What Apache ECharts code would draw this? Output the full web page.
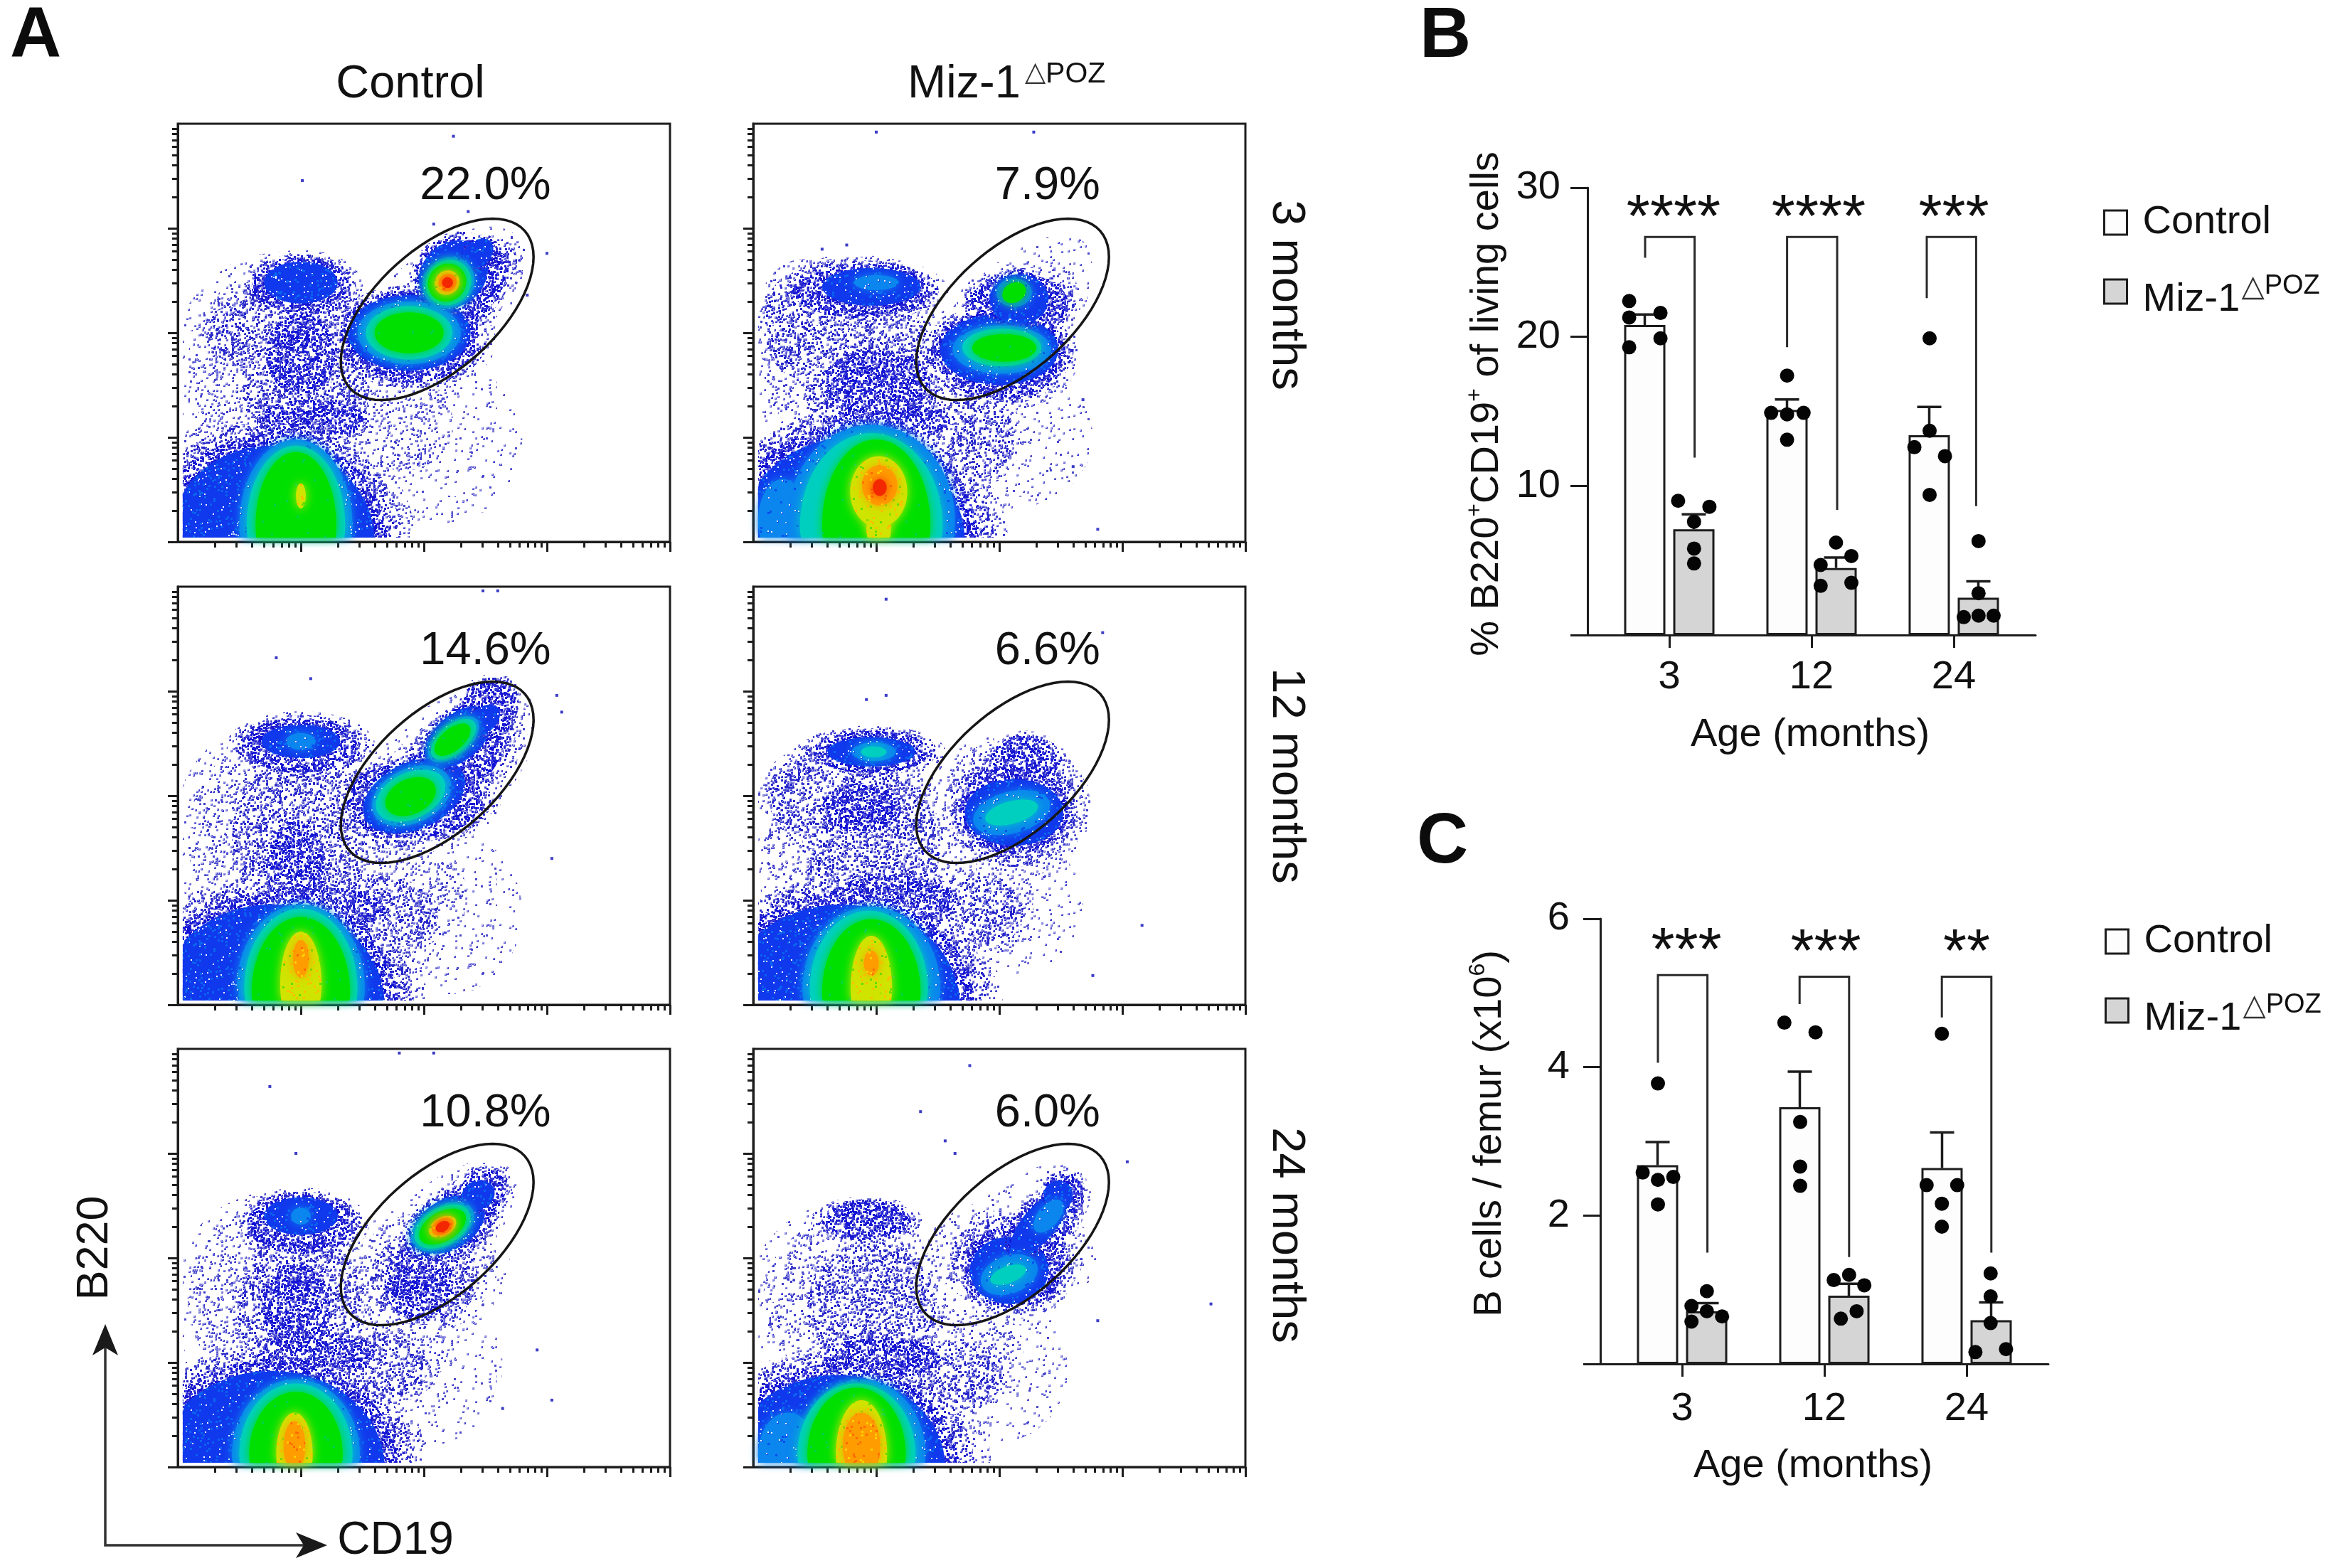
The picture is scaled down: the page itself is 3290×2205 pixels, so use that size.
<!DOCTYPE html>
<html>
<head>
<meta charset="utf-8">
<title>B220 CD19 flow panels and B cell bars</title>
<script src="https://cdn.jsdelivr.net/npm/echarts@6/dist/echarts.min.js"></script>
<style>
  html, body { margin: 0; padding: 0; background: #fff; }
  #chart { width: 3290px; height: 2205px; }
</style>
</head>
<body>
<div id="chart"></div>
<script>
const ageLabels = ["3", "12", "24"];
const ageGroups = [1, 2, 3];

const ctrlMeanB = [20.8, 15.1, 13.4];
const ctrlTopB = [21.5, 15.8, 15.3];
const mizMeanB = [7.1, 4.5, 2.5];
const mizTopB = [8.1, 5.2, 3.6];
const ctrlDotsB = [
  [0.718, 22.4], [0.938, 21.6], [0.718, 21.3], [0.938, 19.9], [0.718, 19.3],
  [1.828, 17.4], [1.716, 14.9], [1.828, 14.8], [1.944, 14.9], [1.828, 13.1],
  [2.83, 19.9], [2.83, 13.7], [2.723, 12.6], [2.938, 12.0], [2.83, 9.4],
];
const mizDotsB = [
  [1.062, 9.0], [1.282, 8.6], [1.174, 7.6], [1.174, 5.8], [1.174, 4.8],
  [2.172, 6.2], [2.28, 5.3], [2.064, 4.7], [2.28, 3.5], [2.064, 3.3],
  [3.174, 6.3], [3.174, 2.8], [3.07, 1.2], [3.174, 1.3], [3.28, 1.3],
];
// left x, right x, top, left end, right end
const bracketsB = [
  [0.83, 1.178, 26.7, 25.3, 11.9],
  [1.828, 2.18, 26.7, 19.3, 8.4],
  [2.81, 3.157, 26.7, 22.6, 8.65],
];
const starsB = [[1.03, 28.4, "****"], [2.05, 28.4, "****"], [3.0, 28.4, "***"]];

const ctrlMeanC = [2.68, 3.46, 2.64];
const ctrlTopC = [2.99, 3.94, 3.12];
const mizMeanC = [0.71, 0.92, 0.59];
const mizTopC = [0.82, 1.08, 0.83];
const ctrlDotsC = [
  [0.83, 3.78], [0.723, 2.58], [0.938, 2.52], [0.83, 2.48], [0.83, 2.15],
  [1.719, 4.6], [1.938, 4.47], [1.83, 3.26], [1.83, 2.66], [1.83, 2.4],
  [2.826, 4.45], [2.719, 2.41], [2.934, 2.41], [2.826, 2.16], [2.826, 1.85],
];
const mizDotsC = [
  [1.174, 0.98], [1.066, 0.78], [1.174, 0.71], [1.281, 0.64], [1.066, 0.57],
  [2.174, 1.2], [2.066, 1.13], [2.281, 1.06], [2.227, 0.71], [2.116, 0.61],
  [3.169, 1.22], [3.169, 0.91], [3.169, 0.55], [3.277, 0.2], [3.062, 0.16],
];
const bracketsC = [
  [0.83, 1.178, 5.24, 4.06, 1.5],
  [1.826, 2.174, 5.22, 4.85, 1.44],
  [2.826, 3.174, 5.22, 4.67, 1.5],
];
const starsC = [[1.03, 5.65, "***"], [2.01, 5.63, "***"], [3.0, 5.63, "**"]];

// flow panels: density regions
// [level, x centre, y centre, x radius, y radius, tilt in degrees], axes run 0-100
const blobs3mCtrl = [
  [0, 53, 24, 17, 20, 0], [0, 52.7, 55.6, 22, 13, 42],
  [1, 20, 42, 18, 23, 0], [1, 46, 28, 10, 11, 0], [1, 52, 53, 19, 11, 42],
  [2, 26, 38, 13, 20, 0], [2, 14, 50, 8, 8, 0], [2, 52, 53, 17, 9, 42],
  [3, 25, 61, 10, 7, 0], [3, 25, 45, 7, 10, 0], [3, 27, 29, 11, 5, 0],
  [4, 25, 62, 7.5, 5, 0], [3, 18, 0, 24, 25, 0], [4, 19, 0, 21, 23, 0],
  [3, 54, 55, 17, 7.5, 42], [3, 47, 48, 14, 10, 0],
  [4, 47, 50, 12.5, 9, 0], [4, 56, 64, 7.5, 7.5, 42], [4, 61, 69, 3.5, 3, 42],
  [5, 47, 50, 10.5, 7.5, 0], [6, 47, 50, 8.8, 6.4, 0], [7, 47, 50, 7, 4.9, 0],
  [5, 55, 62, 5.5, 5.8, 42], [6, 55, 62, 4.8, 5.2, 42], [7, 54.7, 62, 4, 4.4, 42],
  [8, 54.7, 62, 2.6, 2.8, 42], [9, 54.8, 62, 1.9, 2, 42], [10, 54.8, 62, 1.1, 1.3, 42],
  [5, 24, 4, 11.5, 20.5, 0], [6, 24, 4, 10, 19, 0], [7, 24, 4, 8.2, 17.5, 0], [8, 25, 11, 1, 3, 0],
];
const blobs3mMiz = [
  [0, 52, 25, 17, 17, 0], [0, 52.7, 55.6, 20, 11, 42],
  [1, 20, 43, 18, 22, 0], [1, 45, 28, 9, 10, 0], [1, 52, 51, 17, 10, 42],
  [2, 24, 40, 14, 18, 0], [2, 10, 52, 8, 13, 0], [2, 45, 25, 8, 10, 0],
  [3, 22, 60, 14, 6.5, 0], [3, 25, 38, 11, 8, 0], [3, 28, 29, 12, 4, 0],
  [4, 24, 61, 10, 4.5, 0], [3, 19, 0, 26, 25, 0], [4, 20, 0, 23, 25, 0],
  [5, 25, 62, 4.5, 1.8, 0], [5, 6, 5, 5, 10, 0],
  [3, 50, 45, 13, 11, 0], [3, 54, 57, 10, 7, 0],
  [4, 50, 46, 12, 8.5, 0], [4, 54, 58, 6, 6, 0],
  [5, 50.5, 46, 10, 5.8, 0], [6, 50.5, 46.5, 8, 4.5, 0], [7, 51, 46.4, 6.5, 3.3, 0],
  [5, 53, 59.6, 3.6, 3.4, 0], [7, 53, 59.6, 2.5, 2.3, 30],
  [5, 24, 5, 17, 23, 0], [6, 24, 4, 14.5, 22, 0], [7, 25, 4, 11, 20.5, 0],
  [8, 25.5, 12, 5.8, 8.5, 0], [8, 25.5, 3, 2.5, 5, 0], [9, 25.7, 13.5, 3.6, 4.8, 0], [10, 25.7, 13, 1.4, 2, 0],
];
const blobs12mCtrl = [
  [0, 54, 22, 16, 20, 0], [0, 52.7, 55.6, 23, 14, 42],
  [1, 20, 40, 18, 24, 0], [1, 46, 26, 13, 12, 0], [1, 53, 54, 21, 12, 42],
  [2, 25, 40, 14, 20, 0], [2, 40, 22, 13, 9, 0], [2, 53, 54, 19, 10, 42],
  [3, 25, 62, 12, 6.5, 0], [3, 24, 33, 6, 11, 0], [3, 30, 23, 12, 5, 0],
  [4, 25, 63, 8, 4, 0], [3, 18, 0, 26, 24, 0], [4, 19, 0, 23, 24, 0],
  [5, 25, 63, 3, 2, 0],
  [3, 54, 55, 17, 8, 42], [3, 48, 49, 14, 9, 0], [3, 63, 71, 6, 6, 42],
  [4, 48, 50, 11, 8, 25], [4, 57, 64, 8, 5.5, 40], [4, 62, 68, 4, 3, 40],
  [5, 47.5, 50, 8.5, 6.5, 25], [6, 47.3, 50, 7.5, 5.5, 25], [7, 47.3, 49.8, 5.4, 4.2, 25],
  [5, 56, 63.5, 6.2, 3.8, 40], [6, 56, 63.5, 5.5, 3.3, 40], [7, 55.8, 63.4, 4.4, 2.6, 40],
  [5, 25, 4, 13, 20, 0], [6, 25, 4, 11.5, 19, 0], [7, 25, 3, 10, 18, 0],
  [8, 25, 5, 4.2, 12.5, 0], [9, 25, 11, 1.6, 4.5, 0],
];
const blobs12mMiz = [
  [0, 52, 24, 15, 17, 0], [0, 50, 50, 15, 14, 0],
  [1, 20, 40, 18, 22, 0], [1, 44, 26, 13, 13, 0], [1, 52, 48, 14, 14, 0],
  [2, 24, 38, 14, 18, 0], [2, 45, 22, 10, 9, 0], [2, 10, 50, 7, 9, 0],
  [3, 24, 60.5, 12, 5, 0], [3, 22, 47, 8, 6, 0], [3, 28, 25, 13, 6, 0],
  [4, 24, 60.5, 9, 3.5, 0], [3, 18, 0, 26, 24, 0], [4, 18, 0, 24, 24, 0],
  [5, 24.5, 60.5, 4.5, 2.2, 0], [6, 24.5, 60.5, 2.6, 1.3, 0],
  [2, 53, 47, 13, 14, 0], [3, 53, 47, 11, 11, 0], [3, 55, 58, 7, 6, 0],
  [4, 53, 46, 10, 8, 0], [5, 52.5, 46, 8, 5, 15], [6, 52.5, 46, 5.5, 2.7, 15],
  [5, 24, 4, 14, 19.5, 0], [6, 23.5, 4, 12, 18.5, 0], [7, 24, 3, 10, 17.5, 0],
  [8, 24, 4, 4.2, 12.5, 0], [9, 24, 10, 1.5, 3, 0],
];
const blobs24mCtrl = [
  [0, 50, 24, 16, 19, 0], [0, 52.7, 55.6, 20, 11, 42],
  [1, 20, 40, 18, 22, 0], [1, 42, 28, 13, 11, 0], [1, 51, 48, 14, 13, 0],
  [2, 25, 38, 13, 18, 0], [2, 40, 24, 11, 8, 0], [2, 50, 45, 11, 11, 0],
  [3, 25, 58, 11, 7, 0], [3, 24, 38, 7, 11, 0], [3, 28, 27, 12, 5, 0],
  [4, 25, 60, 7.5, 4.5, 0], [5, 25, 60, 2, 2, 0], [3, 18, 0, 26, 23, 0], [4, 19, 0, 23, 23, 0],
  [3, 49, 44, 7, 9, 0], [3, 56, 58, 10, 7, 40], [3, 62, 66, 5, 5, 40],
  [4, 55, 58, 8, 6, 30], [4, 61, 65, 3.5, 3.5, 30],
  [5, 53.8, 57.5, 7, 4.8, 30], [6, 53.8, 57.5, 6.2, 4.4, 30], [7, 53.8, 57.5, 5.2, 3.5, 30],
  [8, 53.8, 57.5, 3, 2.2, 30], [9, 53.8, 57.5, 2.4, 1.8, 30], [10, 53.8, 57.5, 1.5, 1.2, 30],
  [5, 24, 3, 13, 18, 0], [6, 24, 3, 11.5, 17, 0], [7, 24, 3, 9.5, 15, 0],
  [8, 23.7, 3, 3.7, 10, 0], [9, 23.7, 5, 2.2, 6, 0],
];
const blobs24mMiz = [
  [0, 50, 24, 14, 18, 0], [0, 52.7, 55.6, 19, 11, 42],
  [1, 20, 40, 18, 20, 0], [1, 44, 28, 11, 11, 0], [1, 52, 50, 15, 12, 0],
  [2, 24, 38, 13, 16, 0], [2, 42, 22, 9, 8, 0], [2, 52, 50, 12, 10, 0],
  [3, 23, 59, 9, 4.5, 0], [3, 26, 26, 12, 5, 0],
  [3, 17, 0, 25, 22, 0], [4, 17, 0, 22, 22, 0],
  [3, 53, 48, 10, 10, 0], [3, 57, 56, 12, 6, 45], [3, 63, 66, 4, 4, 0],
  [4, 52, 47, 8, 8, 0], [4, 58, 58, 8, 4, 50], [4, 62, 65, 3, 3.5, 0],
  [5, 52, 46, 6, 4.5, 20], [5, 60, 60, 4, 2.5, 50], [6, 51.8, 46, 3.8, 2, 20],
  [5, 7, 3, 6, 10, 0], [5, 22, 3, 13, 18, 0], [6, 21, 3, 12, 17, 0], [7, 21, 3, 10, 16, 0],
  [8, 22, 3, 5.2, 13, 0], [9, 22, 5, 3.8, 8, 0],
];
const gateEllipse = [52.7, 55.6, 23.9, 14.5, 42];

const strayDots3mCtrl = [[25.3, 86.4], [56, 97], [75, 69], [71, 59], [59, 79], [52, 76]];
const strayDots3mMiz = [[25, 98], [57, 98], [19, 71], [14, 70], [67, 34], [65, 18], [70, 3]];
const strayDots12mCtrl = [[62, 99], [65, 99], [20, 83], [27, 78], [77, 74], [78, 70], [76, 35]];
const strayDots12mMiz = [[27, 97], [23, 73], [27, 74], [71, 89], [47, 10], [79, 19], [69, 7]];
const strayDots24mCtrl = [[45, 99], [52, 99], [18.7, 91], [24, 75], [73, 28], [66, 14], [76, 16]];
const strayDots24mMiz = [[44, 96], [34, 85], [39, 78], [41, 75], [76, 73], [93, 39], [70, 35]];

const pctLabels = [
  ["22.0%", "7.9%"],
  ["14.6%", "6.6%"],
  ["10.8%", "6.0%"],
];
const pctAnchors = [
  [[62.5, 85.1], [59.8, 85.1]],
  [[62.5, 84.5], [59.8, 84.5]],
  [[62.5, 84.5], [59.8, 84.5]],
];
const flowBlobs = [
  [blobs3mCtrl, blobs3mMiz],
  [blobs12mCtrl, blobs12mMiz],
  [blobs24mCtrl, blobs24mMiz],
];
const flowStrays = [
  [strayDots3mCtrl, strayDots3mMiz],
  [strayDots12mCtrl, strayDots12mMiz],
  [strayDots24mCtrl, strayDots24mMiz],
];
const decadeMinorTicks = [30.1, 47.7, 60.2, 69.9, 77.8, 84.5, 90.3, 95.4];
const decadeStarts = [0, 25, 50, 75];

const INK = "#1d1d1d";
const FONT = "'Liberation Sans', Arial, sans-serif";

// speckled fills standing in for the cytometer's dots, one canvas tile per density level
const makeTile = (size, bg, dots) => {
  const canvas = document.createElement("canvas");
  canvas.width = canvas.height = size;
  const ctx = canvas.getContext("2d");
  if (bg) {
    ctx.fillStyle = bg;
    ctx.fillRect(0, 0, size, size);
  }
  dots.forEach(([count, color, dot]) => {
    ctx.fillStyle = color;
    for (let i = 1; i <= count; i++) {
      const wobble = (i * i * 0.0137) % 1;
      const x = (i * 0.7548776662 + 0.21 * wobble) % 1;
      const y = (i * 0.569840291 + 0.37 * wobble) % 1;
      ctx.fillRect(Math.round(x * size), Math.round(y * size), dot, dot);
    }
  });
  return canvas;
};
const tile = (size, bg, dots) => ({ image: makeTile(size, bg, dots), repeat: "repeat" });
const levelFills = {
  0: tile(233, null, [[420, "#4a48cc", 3], [380, "#a0a0e6", 2]]),
  1: tile(229, null, [[900, "#3c3ccc", 3], [700, "#9696e4", 2]]),
  2: tile(199, null, [[1300, "#2626cc", 3], [500, "#8484e0", 2]]),
  3: tile(167, null, [[1500, "#1414d6", 3], [300, "#3a3adc", 3]]),
  4: tile(211, "#1038ec", [[800, "#ffffff", 2], [500, "#0a64f0", 3]]),
  5: tile(181, "#0a86ee", [[220, "#0a4cec", 3], [150, "#ffffff", 2]]),
  6: "#00cfc0",
  7: tile(181, "#00e000", [[50, "#00d24c", 3]]),
  8: tile(127, "#cfe400", [[180, "#ffc000", 3], [60, "#64dc00", 3]]),
  9: tile(127, "#ff9c00", [[170, "#ff6a00", 3], [80, "#ffd000", 3]]),
  10: "#f42800",
};
const levelGlow = { 5: "#0a86ee", 6: "#00cfc0", 7: "#00e000", 8: "#cfe400", 9: "#ff9c00", 10: "#f42800" };
// thinner dots ringed around a region so its edge fades out: [scale, level]
const levelHalos = {
  1: [[1.18, 0]],
  2: [[1.2, 1]],
  3: [[1.26, 1], [1.12, 2]],
  4: [[1.26, 2], [1.12, 3]],
};

const ellipsePoints = (api, cx, cy, rx, ry, tilt) => {
  const [px, py] = api.coord([cx, cy]);
  const [sx, sy] = api.size([1, 1]);
  const t = (tilt * Math.PI) / 180;
  const pts = [];
  for (let i = 0; i < 72; i++) {
    const a = (i / 72) * Math.PI * 2;
    const u = rx * sx * Math.cos(a);
    const v = ry * sy * Math.sin(a);
    pts.push([px + u * Math.cos(t) - v * Math.sin(t), py - u * Math.sin(t) - v * Math.cos(t)]);
  }
  return pts;
};

const renderBlob = (params, api) => {
  const level = api.value(0);
  const [cx, cy, rx, ry, tilt] = [1, 2, 3, 4, 5].map((d) => api.value(d));
  // the cells stop just short of the frame on the left and at the bottom
  const lo = api.coord([1, 1]);
  const hi = api.coord([100, 100]);
  const area = { x: lo[0], y: hi[1], width: hi[0] - lo[0], height: lo[1] - hi[1] };
  const piece = (scale, lv) => ({
    type: "polygon",
    shape: { points: echarts.graphic.clipPointsByRect(ellipsePoints(api, cx, cy, rx * scale, ry * scale, tilt), area) },
    style: { fill: levelFills[lv], shadowBlur: levelGlow[lv] ? 14 : 0, shadowColor: levelGlow[lv] || "transparent" },
  });
  const halos = levelHalos[level] || [];
  return { type: "group", children: [...halos.map(([s, lv]) => piece(s, lv)), piece(1, level)] };
};

const renderGate = (params, api) => ({
  type: "polygon",
  shape: { points: ellipsePoints(api, api.value(0), api.value(1), api.value(2), api.value(3), api.value(4)) },
  style: { fill: "none", stroke: "#161616", lineWidth: 3.5 },
});

const grids = [];
const xAxes = [];
const yAxes = [];
const series = [];

const flowCols = [250, 1059];
const flowRows = [174, 825, 1475];
const minorValues = decadeStarts.flatMap((s) => decadeMinorTicks.map((f) => s + f / 4));

flowRows.forEach((top, r) => {
  flowCols.forEach((left, c) => {
    const gi = grids.length;
    grids.push({
      left, top, width: 692, height: 588,
      show: true, borderColor: INK, borderWidth: 3, backgroundColor: "#fff",
    });
    const axisBase = { type: "value", min: 0, max: 100, gridIndex: gi, splitLine: { show: false }, axisLabel: { show: false } };
    const xi = xAxes.length;
    xAxes.push(
      { ...axisBase, position: "bottom", axisLine: { show: true, onZero: false, lineStyle: { color: INK, width: 3 } },
        axisTick: { show: true, length: 14, customValues: [25, 50, 75, 100], lineStyle: { color: INK, width: 3 } } },
      { ...axisBase, position: "bottom", axisLine: { show: false },
        axisTick: { show: true, length: 8, customValues: minorValues, lineStyle: { color: INK, width: 3 } } }
    );
    const yi = yAxes.length;
    yAxes.push(
      { ...axisBase, position: "left", axisLine: { show: true, onZero: false, lineStyle: { color: INK, width: 3 } },
        axisTick: { show: true, length: 14, customValues: [0, 25, 50, 75], lineStyle: { color: INK, width: 3 } } },
      { ...axisBase, position: "left", axisLine: { show: false },
        axisTick: { show: true, length: 8, customValues: minorValues, lineStyle: { color: INK, width: 3 } } }
    );
    series.push(
      { type: "custom", coordinateSystem: "cartesian2d", xAxisIndex: xi, yAxisIndex: yi, silent: true, z: 2,
        dimensions: ["level", "x", "y", "rx", "ry", "tilt"], encode: { x: 1, y: 2 },
        renderItem: renderBlob, data: flowBlobs[r][c] },
      { type: "scatter", xAxisIndex: xi, yAxisIndex: yi, silent: true, z: 3,
        symbol: "rect", symbolSize: 4, itemStyle: { color: "#3c3cc8", opacity: 1 }, data: flowStrays[r][c] },
      { type: "custom", coordinateSystem: "cartesian2d", xAxisIndex: xi, yAxisIndex: yi, silent: true, z: 4,
        encode: { x: 0, y: 1 }, renderItem: renderGate, data: [gateEllipse] },
      { type: "scatter", xAxisIndex: xi, yAxisIndex: yi, silent: true, z: 5, symbolSize: 0, itemStyle: { opacity: 1 },
        label: { show: true, position: "inside", formatter: (p) => pctLabels[r][c], fontFamily: FONT, fontSize: 65, color: "#111" },
        data: [pctAnchors[r][c]] }
    );
  });
});

// half the distance between the two bars of a group, in axis units
const BAR_OFFSET = 0.1725;

const addBarChart = ({ left, top, height, yMax, yStep, yMargin, xMargin, ctrlMean, ctrlTop, mizMean, mizTop, ctrlDots, mizDots, brackets, stars }) => {
  const gi = grids.length;
  grids.push({ left, top, width: 630, height });
  const xi = xAxes.length;
  const yi = yAxes.length;
  xAxes.push({
    type: "value", gridIndex: gi, min: 0.425, max: 3.575, position: "bottom",
    splitLine: { show: false },
    axisLine: { show: true, onZero: false, lineStyle: { color: INK, width: 3 } },
    axisTick: { show: true, length: 18, customValues: ageGroups, lineStyle: { color: INK, width: 3 } },
    axisLabel: { customValues: ageGroups, margin: xMargin, fontFamily: FONT, fontSize: 56, color: "#111",
      formatter: (v) => ageLabels[ageGroups.indexOf(v)] },
  });
  yAxes.push({
    type: "value", gridIndex: gi, min: 0, max: yMax, interval: yStep, position: "left",
    splitLine: { show: false },
    axisLine: { show: true, onZero: false, lineStyle: { color: INK, width: 3 } },
    axisTick: { show: true, length: 24, lineStyle: { color: INK, width: 3 } },
    axisLabel: { margin: yMargin, fontFamily: FONT, fontSize: 56, color: "#111", formatter: (v) => (v === 0 ? "" : String(v)) },
  });
  const barStyle = (fill) => ({
    type: "bar", xAxisIndex: xi, yAxisIndex: yi, barWidth: 58, barGap: "19%", silent: true, z: 2,
    itemStyle: { color: fill, borderColor: INK, borderWidth: 3 },
  });
  series.push(
    { ...barStyle("#fdfdfd"), name: "Control", data: ctrlMean.map((v, i) => [ageGroups[i], v]) },
    { ...barStyle("#d5d5d5"), name: "Miz-1", data: mizMean.map((v, i) => [ageGroups[i], v]) },
    // whisker goes up only, as in the figure
    { type: "custom", coordinateSystem: "cartesian2d", xAxisIndex: xi, yAxisIndex: yi, silent: true, z: 3,
      encode: { x: 0, y: [1, 2] },
      renderItem: (params, api) => {
        const x = api.value(0);
        const base = api.coord([x, api.value(1)]);
        const tip = api.coord([x, api.value(2)]);
        return {
          type: "polyline",
          shape: { points: [base, tip, [tip[0] - 17, tip[1]], [tip[0] + 17, tip[1]]] },
          style: { fill: "none", stroke: INK, lineWidth: 3.5 },
        };
      },
      data: [
        ...ctrlMean.map((v, i) => [ageGroups[i] - BAR_OFFSET, v, ctrlTop[i]]),
        ...mizMean.map((v, i) => [ageGroups[i] + BAR_OFFSET, v, mizTop[i]]),
      ] },
    { type: "scatter", xAxisIndex: xi, yAxisIndex: yi, silent: true, z: 4, symbolSize: 20,
      itemStyle: { color: "#050505", opacity: 1 }, data: [...ctrlDots, ...mizDots] },
    { type: "custom", coordinateSystem: "cartesian2d", xAxisIndex: xi, yAxisIndex: yi, silent: true, z: 5,
      encode: { x: [0, 1], y: [2, 3, 4] },
      renderItem: (params, api) => {
        const [l, r, t, le, re] = [0, 1, 2, 3, 4].map((d) => api.value(d));
        return {
          type: "polyline",
          shape: { points: [api.coord([l, le]), api.coord([l, t]), api.coord([r, t]), api.coord([r, re])] },
          style: { fill: "none", stroke: "#2a2a2a", lineWidth: 3 },
        };
      },
      data: brackets },
    { type: "scatter", xAxisIndex: xi, yAxisIndex: yi, silent: true, z: 5, symbolSize: 0, itemStyle: { opacity: 1 },
      label: { show: true, position: "inside", offset: [0, 12], formatter: (p) => p.data[2], fontFamily: FONT, fontSize: 85, color: "#111" },
      data: stars }
  );
};

addBarChart({ left: 2232, top: 264, height: 629, yMax: 30, yStep: 10, yMargin: 38, xMargin: 32,
  ctrlMean: ctrlMeanB, ctrlTop: ctrlTopB, mizMean: mizMeanB, mizTop: mizTopB,
  ctrlDots: ctrlDotsB, mizDots: mizDotsB, brackets: bracketsB, stars: starsB });
addBarChart({ left: 2250, top: 1292, height: 626, yMax: 6, yStep: 2, yMargin: 43, xMargin: 36,
  ctrlMean: ctrlMeanC, ctrlTop: ctrlTopC, mizMean: mizMeanC, mizTop: mizTopC,
  ctrlDots: ctrlDotsC, mizDots: mizDotsC, brackets: bracketsC, stars: starsC });

const legendRich = {
  t: { fontFamily: FONT, fontSize: 56, color: "#111", lineHeight: 64, padding: [0, 0, 0, 17] },
  m: { fontFamily: FONT, fontSize: 56, color: "#111", lineHeight: 64, padding: [24, 0, 0, 17] },
  d: { fontFamily: "'DejaVu Sans'", fontSize: 42, color: "#333", verticalAlign: "top", lineHeight: 46, padding: [6, 0, 0, 2] },
  s: { fontFamily: FONT, fontSize: 38, color: "#111", verticalAlign: "top", lineHeight: 46, padding: [6, 0, 0, 0] },
};
const makeLegend = (left, top) => ({
  left, top, padding: 0, orient: "vertical", icon: "rect", itemWidth: 32, itemHeight: 34, itemGap: 29,
  data: ["Control", "Miz-1"], selectedMode: false, align: "left",
  itemStyle: { borderColor: INK, borderWidth: 3 },
  formatter: (name) => (name === "Miz-1" ? "{m|Miz-1}{d|△}{s|POZ}" : "{t|Control}"),
  textStyle: { rich: legendRich },
});

const label = (text, x, y, size, extra) => ({
  type: "text", x, y, silent: true, z: 10,
  style: { text, fontFamily: FONT, fontSize: size, fill: "#111", align: "center", verticalAlign: "middle", ...extra },
});
const richSup = {
  t: { fontFamily: FONT, fontSize: 56, fill: "#111", color: "#111", lineHeight: 66 },
  s: { fontFamily: FONT, fontSize: 32, fill: "#111", color: "#111", verticalAlign: "top", lineHeight: 40 },
};
const rot = (deg) => (deg * Math.PI) / 180;
const arrowHead = (tip, dir) => {
  // notched head pointing along dir
  const [tx, ty] = tip;
  const [dx, dy] = dir;
  const back = 44, notch = 33, half = 18;
  return [
    [tx, ty],
    [tx - dx * back + dy * half, ty - dy * back + dx * half],
    [tx - dx * notch, ty - dy * notch],
    [tx - dx * back - dy * half, ty - dy * back - dx * half],
  ];
};

const graphics = [
  label("A", 50, 52, 100, { fontWeight: "bold", fill: "#0c0c0c" }),
  label("B", 2032, 52, 100, { fontWeight: "bold", fill: "#0c0c0c" }),
  label("C", 2028, 1185, 100, { fontWeight: "bold", fill: "#0c0c0c" }),
  label("Control", 577, 119, 65),
  { type: "text", x: 1276, y: 119, silent: true, z: 10,
    style: { text: "{t|Miz-1}{d|△}{s|POZ}", align: "left", verticalAlign: "middle",
      rich: {
        t: { fontFamily: FONT, fontSize: 65, fill: "#111", lineHeight: 70 },
        d: { fontFamily: "'DejaVu Sans'", fontSize: 38, fill: "#333", verticalAlign: "top", lineHeight: 50, padding: [0, 0, 0, 6] },
        s: { fontFamily: FONT, fontSize: 41, fill: "#111", verticalAlign: "top", lineHeight: 50 },
      } } },
  { ...label("3 months", 1808, 415, 65), rotation: rot(-90) },
  { ...label("12 months", 1808, 1091, 65), rotation: rot(-90) },
  { ...label("24 months", 1808, 1737, 65), rotation: rot(-90) },
  { ...label("B220", 134, 1755, 63), rotation: rot(90) },
  label("CD19", 556, 2167, 64),
  { type: "polyline", silent: true, shape: { points: [[148, 1890], [148, 2173], [430, 2173]] },
    style: { fill: "none", stroke: "#333", lineWidth: 3.5 } },
  { type: "polygon", silent: true, shape: { points: arrowHead([148, 1862], [0, -1]) }, style: { fill: "#1a1a1a" } },
  { type: "polygon", silent: true, shape: { points: arrowHead([460, 2173], [1, 0]) }, style: { fill: "#1a1a1a" } },
  { type: "text", x: 2091, y: 568, rotation: rot(90), silent: true, z: 10,
    style: { text: "{t|% B220}{s|+}{t|CD19}{s|+}{t| of living cells}", align: "center", verticalAlign: "middle", rich: richSup } },
  { type: "text", x: 2095, y: 1594, rotation: rot(90), silent: true, z: 10,
    style: { text: "{t|B cells / femur (x10}{s|6}{t|)}", align: "center", verticalAlign: "middle", rich: richSup } },
  label("Age (months)", 2545, 1034, 56),
  label("Age (months)", 2549, 2062, 56),
];

const chart = echarts.init(document.getElementById("chart"), null, { renderer: "canvas" });
chart.setOption({
  animation: false,
  backgroundColor: "#fff",
  textStyle: { fontFamily: FONT },
  grid: grids,
  xAxis: xAxes,
  yAxis: yAxes,
  legend: [makeLegend(2957, 285), makeLegend(2959, 1296)],
  series,
  graphic: graphics,
});
</script>
</body>
</html>
